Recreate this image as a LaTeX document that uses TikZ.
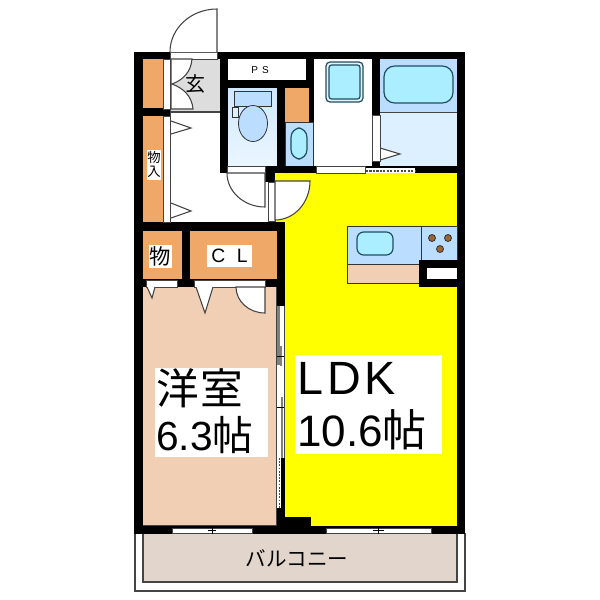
\documentclass[tikz,border=0pt]{standalone}
\usepackage{fontspec}
\setmainfont{Liberation Sans}
\newfontfamily\cjk{Noto Sans CJK JP}
\newcommand{\fz}[1]{\fontsize{#1}{#1}\selectfont}
\definecolor{wallc}{HTML}{000000}
\definecolor{orangec}{HTML}{F0A868}
\definecolor{pinkc}{HTML}{F0CFB5}
\definecolor{bluec}{HTML}{BBDDFF}
\definecolor{paleb}{HTML}{DDF0FF}
\definecolor{cyanc}{HTML}{AAEEFF}
\definecolor{tealc}{HTML}{1F4F60}
\definecolor{yellowc}{HTML}{FFFF00}
\definecolor{grayc}{HTML}{DDDDDD}
\definecolor{balc}{HTML}{E2D6CC}
\definecolor{linec}{HTML}{444444}
\tikzset{
 wall/.style={fill=wallc},
 strip/.style={fill=white,draw=linec,line width=.6pt},
 doorleaf/.style={fill=white,draw=linec,line width=.8pt},
 stopper/.style={fill=white,draw=linec,line width=.8pt},
 closet/.style={fill=orangec},
 fixture/.style={draw=black!80,line width=.6pt},
 basin/.style={fill=cyanc,draw=tealc,line width=.9pt,rounded corners=5pt},
 label box/.style={fill=white},
 txt/.style={inner sep=0pt,text=black},
}
\begin{document}
\begin{tikzpicture}[x=.75pt,y=-.75pt]
\useasboundingbox (0,0) rectangle (600,600);
\fill[white] (0,0) rectangle (600,600);
% balcony
\draw[draw=linec,line width=.8pt] (135,533) -- (135,591) -- (465,591) -- (465,533);
\draw[fill=balc,draw=linec,line width=.8pt] (143,533) -- (143,582) -- (457,582) -- (457,533) -- cycle;
% room fills
\fill[yellowc] (275,173) -- (457,173) -- (457,526) -- (311,526) -- (311,517) -- (285,517) -- (285,222) -- (275,222) -- cycle;
\fill[pinkc] (143,287) rectangle (277,526);
\draw[linec,line width=.8pt] (143,526) -- (277,526) -- (277,287);
\fill[grayc] (170,59) rectangle (220,112);
\draw[linec,line width=.8pt] (170,112) -- (220,112);
% closets
\fill[closet] (143,59) rectangle (163,108);
\fill[closet] (143,116) rectangle (163,222);
\fill[closet] (143,231) rectangle (182,279);
\fill[closet] (190,231) rectangle (277,279);
\fill[closet] (285,88) rectangle (309,122);
% toilet
\shade[top color=bluec!70!white,bottom color=paleb!60!white] (228,88) rectangle (277,166);
\draw[fill=bluec,fixture] (234,91) rectangle (271,106);
\draw[fill=bluec,fixture] (253,123.5) ellipse (14.5 and 18);
\draw[fill=paleb,fixture] (232,107) rectangle (238,117);
% wash
\draw[fill=bluec,fixture] (285,122) rectangle (313,166);
\draw[basin,rounded corners=7pt] (291,128) rectangle (307,159);
\draw[fill=bluec!40!white,draw=tealc,line width=.9pt,rounded corners=3pt] (326,62) rectangle (363,102);
\draw[basin,rounded corners=2pt] (329,65) rectangle (360,99);
% bath
\fill[bluec] (380,59) rectangle (457,112);
\fill[paleb] (380,112) rectangle (457,166);
\draw[linec,line width=.8pt] (380,112.5) -- (457,112.5);
\draw[basin,rounded corners=8pt] (384,66) rectangle (453,103);
\draw[stopper] (380,148) -- (400,154) -- (380,160);
% walls
\fill[wall] (134,52) rectangle (465,59);
\fill[wall] (134,52) rectangle (143,534);
\fill[wall] (457,52) rectangle (465,534);
\fill[wall] (134,526) rectangle (465,534);
\fill[wall] (311,517) rectangle (285,526);
\fill[wall] (277,506) rectangle (285,526);
\fill[wall] (220,59) rectangle (228,173);
\fill[wall] (220,80) rectangle (314,88);
\fill[wall] (306,59) rectangle (314,88);
\fill[wall] (277,88) rectangle (285,173);
\fill[wall] (309,88) rectangle (314,122);
\fill[wall] (372,59) rectangle (380,115);
\fill[wall] (372,161) rectangle (380,166);
\fill[wall] (220,166) rectangle (457,173);
\fill[wall] (265,166) rectangle (275,182);
\fill[wall] (143,108) rectangle (163,116);
\fill[wall] (163,109) rectangle (171,118);
\fill[wall] (143,222) rectangle (285,231);
\fill[wall] (277,222) rectangle (285,306);
\fill[wall] (182,231) rectangle (190,287);
\fill[wall] (143,279) rectangle (285,287);
% PS room
\fill[white] (228,59) rectangle (306,80);
% sliding doors in walls
\draw[strip] (170,52) rectangle (217,59);
\draw[strip] (163,59) rectangle (170.5,109);
\draw[strip] (163,116) rectangle (170.5,222);
\draw[strip] (372,115) rectangle (380,161);
\draw[strip] (227,166) rectangle (265,173);
\draw[strip] (268,182) rectangle (275,221);
\draw[strip] (316,166) rectangle (365,173);
\fill[white] (366,168) rectangle (415,173);
\draw[densely dotted,line width=1.6pt,black!70] (366,171) -- (415,171);
\draw[strip] (146,280) rectangle (177,287);
\draw[strip] (194,280) rectangle (265,287);
\draw[strip] (172,528) rectangle (252,533.5);
\draw[strip] (326,528) rectangle (431,533.5);
\draw[black,line width=.7pt] (212,526.5) -- (212,533.5) (208,530) -- (216,530);
\draw[black,line width=.7pt] (378,526.5) -- (378,533.5) (373,530) -- (384,530);
% LDK side door
\fill[white] (277,306) rectangle (285,508);
\fill[wall] (281,458) rectangle (285,508);
\fill[white] (277,458) rectangle (281,508);
\draw[densely dotted,line width=1.4pt,black!70] (279.5,458) -- (279.5,508);
\fill[gray] (277,306) rectangle (280,365);
\fill[gray] (280,346) rectangle (282,366);
\fill[gray] (281,397) rectangle (283,458);
\draw[black,line width=.7pt] (277,356.5) -- (285,356.5) (277,407.5) -- (285,407.5);
\draw[linec,line width=.6pt] (284.6,306) -- (284.6,458);
% entry
\draw[doorleaf] (170,52) arc[start angle=180,end angle=270,x radius=47,y radius=43] -- (217,52);
\draw[linec,line width=.8pt] (170.5,59) -- (170.5,222);
\draw[doorleaf] (192,59) .. controls (191,72) and (183,80) .. (172,84) .. controls (183,88) and (192,96) .. (193,109) -- (171,109) -- (171,59) -- cycle;
\draw[stopper] (171,121) -- (191,128) -- (171,134);
\draw[stopper] (171,203) -- (191,211) -- (171,218);
% hall door
\draw[doorleaf] (227,173) arc[start angle=180,end angle=90,x radius=38,y radius=34] -- (265,173) -- cycle;
% LDK door
\draw[doorleaf] (275,181) -- (310,181) arc[start angle=0,end angle=90,x radius=35,y radius=39] -- cycle;
% closet door marks
\draw[stopper] (147,287) -- (152,298) -- (155,287);
\draw[stopper] (196,287) -- (205,313) -- (213,287);
\draw[doorleaf] (236,287) arc[start angle=180,end angle=90,x radius=29,y radius=26] -- (265,287) -- cycle;
% kitchen
\draw[fill=pinkc,fixture] (347,264) rectangle (420,283);
\draw[fill=bluec,fixture] (347,226) rectangle (457,264);
\draw[fixture] (421,226) -- (421,262);
\draw[basin] (357,232) rectangle (393,255);
\foreach \p/\q in {432/238,448/238,440/249}{\draw[fill=brown!80!black,draw=black!80,line width=.6pt] (\p,\q) circle (3.5);}
\fill[wall] (419,260) rectangle (465,287);
\fill[white] (427,268) rectangle (457,279);
% label boxes
\fill[label box] (147,150) rectangle (161,180);
\fill[label box] (149,245) rectangle (172,268);
\fill[label box] (207,245) rectangle (252,267);
\fill[label box] (155,368) rectangle (268,457);
\fill[label box] (295,355) rectangle (442,454);
% texts
\node[txt] (genkan) at (195,84) {\cjk\fz{15}玄};
\node[txt] (ps) at (260,70) {\fz{7.5}P\kern3pt S};
\node[txt] (mono1) at (154,157.5) {\cjk\fz{10}物};
\node[txt] (iri) at (154,172) {\cjk\fz{10}入};
\node[txt] (mono2) at (160.5,256.5) {\cjk\fz{16}物};
\node[txt] (cl) at (229.5,256) {\fz{14.5}C\kern8.5pt L};
\node[txt,anchor=west] (yoshitsu) at (156,388) {\cjk\fz{32}洋\kern1pt 室};
\node[txt,anchor=west] (size1) at (156,435) {\fz{30.5}6.3{\cjk 帖}};
\node[txt,anchor=west] (ldk) at (297,378) {\fz{35}L\kern3pt D\kern3pt K};
\node[txt,anchor=west] (size2) at (297,430) {\fz{33}10.6{\cjk 帖}};
\node[txt] (balcony) at (297,558) {\cjk\fz{15.4}バルコニー};
\end{tikzpicture}
\end{document}
